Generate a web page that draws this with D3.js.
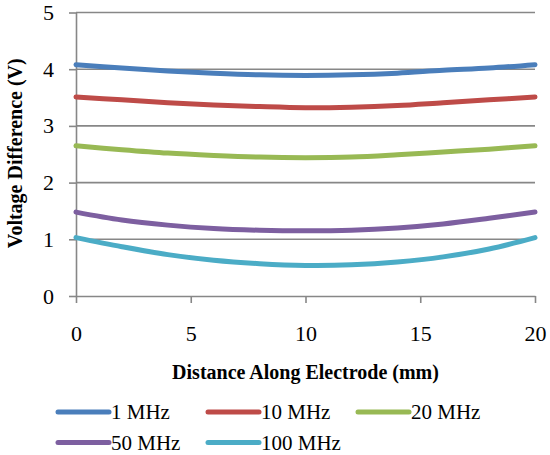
<html>
<head>
<script src="https://d3js.org/d3.v7.min.js"></script>
<style>
body { margin:0; background:#fff; }
svg text { font-family: "Liberation Serif", "Times New Roman", "DejaVu Serif", serif; }
</style>
</head>
<body>
<svg width=550 height=455></svg>
<script>
// distance along electrode (mm)
var dist = [0, 2, 4, 6, 8, 10, 12, 14, 16, 18, 20];
var seriesNames = ["1 MHz", "10 MHz", "20 MHz", "50 MHz", "100 MHz"];
var v1 = [4.08, 4.02, 3.97, 3.93, 3.90, 3.89, 3.90, 3.93, 3.98, 4.02, 4.08];
var v10 = [3.51, 3.46, 3.41, 3.37, 3.34, 3.32, 3.33, 3.36, 3.41, 3.46, 3.51];
var v20 = [2.65, 2.58, 2.52, 2.48, 2.45, 2.44, 2.45, 2.49, 2.54, 2.59, 2.65];
var v50 = [1.48, 1.34, 1.25, 1.19, 1.16, 1.15, 1.16, 1.20, 1.27, 1.37, 1.48];
var v100 = [1.03, 0.87, 0.73, 0.63, 0.57, 0.54, 0.55, 0.60, 0.69, 0.83, 1.03];
var colors = ["#4a7ebb", "#be4b48", "#98b954", "#7d5fa0", "#4bacc6"];
var xTicks = [0, 5, 10, 15, 20];
var yTicks = [0, 1, 2, 3, 4, 5];

var series = [v1, v10, v20, v50, v100].map(function(vals, i) {
	return {name: seriesNames[i], color: colors[i],
		points: vals.map(function(v, j) { return {x: dist[j], y: v}; })};
});

var svg = d3.select("svg");
var margin = {top: 12.5, right: 15, bottom: 159, left: 76};
var width = 550, height = 455;
var x = d3.scaleLinear().domain([0, 20]).range([margin.left, width - margin.right]);
var y = d3.scaleLinear().domain([0, 5]).range([height - margin.bottom, margin.top]);
var axisColor = "#878787";
var font = "Liberation Serif, Times New Roman, DejaVu Serif, serif";

// gridlines
svg.append("g").selectAll("line")
	.data(yTicks.filter(function(d) { return d > 0; }))
	.enter().append("line")
	.attr("x1", x(0)).attr("x2", x(20))
	.attr("y1", function(d) { return y(d); })
	.attr("y2", function(d) { return y(d); })
	.attr("stroke", axisColor).attr("stroke-width", 1.6);

// y axis
var yAxis = svg.append("g")
	.attr("transform", "translate(" + x(0) + ",0)")
	.call(d3.axisLeft(y).tickValues(yTicks).tickFormat(d3.format("d"))
		.tickSize(7).tickPadding(15).tickSizeOuter(0));
// x axis
var xAxis = svg.append("g")
	.attr("transform", "translate(0," + y(0) + ")")
	.call(d3.axisBottom(x).tickValues(xTicks).tickFormat(d3.format("d"))
		.tickSize(7).tickPadding(22).tickSizeOuter(0));

[yAxis, xAxis].forEach(function(g) {
	g.attr("font-family", font).attr("font-size", 22);
	g.select(".domain").attr("stroke", axisColor).attr("stroke-width", 1.6);
	g.selectAll(".tick line").attr("stroke", axisColor).attr("stroke-width", 1.6);
	g.selectAll(".tick text").attr("fill", "#000");
});

// lines
var line = d3.line()
	.x(function(d) { return x(d.x); })
	.y(function(d) { return y(d.y); })
	.curve(d3.curveCatmullRom);

svg.append("g").selectAll("path")
	.data(series)
	.enter().append("path")
	.attr("d", function(d) { return line(d.points); })
	.attr("fill", "none")
	.attr("stroke", function(d) { return d.color; })
	.attr("stroke-width", 5)
	.attr("stroke-linecap", "round");

// axis titles
svg.append("text")
	.attr("x", (x(0) + x(20)) / 2)
	.attr("y", 378.5)
	.attr("text-anchor", "middle")
	.attr("font-family", font).attr("font-weight", "bold").attr("font-size", 20)
	.text("Distance Along Electrode (mm)");

svg.append("text")
	.attr("transform", "translate(21.5," + (y(2.5) - 1) + ") rotate(-90)")
	.attr("text-anchor", "middle")
	.attr("font-family", font).attr("font-weight", "bold").attr("font-size", 20)
	.text("Voltage Difference (V)");

// legend
var legend = svg.append("g").selectAll("g")
	.data(series)
	.enter().append("g")
	.attr("transform", function(d, i) {
		return "translate(" + (58 + (i % 3) * 150) + "," + (412 + Math.floor(i / 3) * 30.5) + ")";
	});
legend.append("line")
	.attr("x1", 0).attr("x2", 51)
	.attr("stroke", function(d) { return d.color; })
	.attr("stroke-width", 5)
	.attr("stroke-linecap", "round");
legend.append("text")
	.attr("x", 53).attr("dy", "0.35em")
	.attr("font-family", font).attr("font-size", 21)
	.text(function(d) { return d.name; });
</script>
</body>
</html>
